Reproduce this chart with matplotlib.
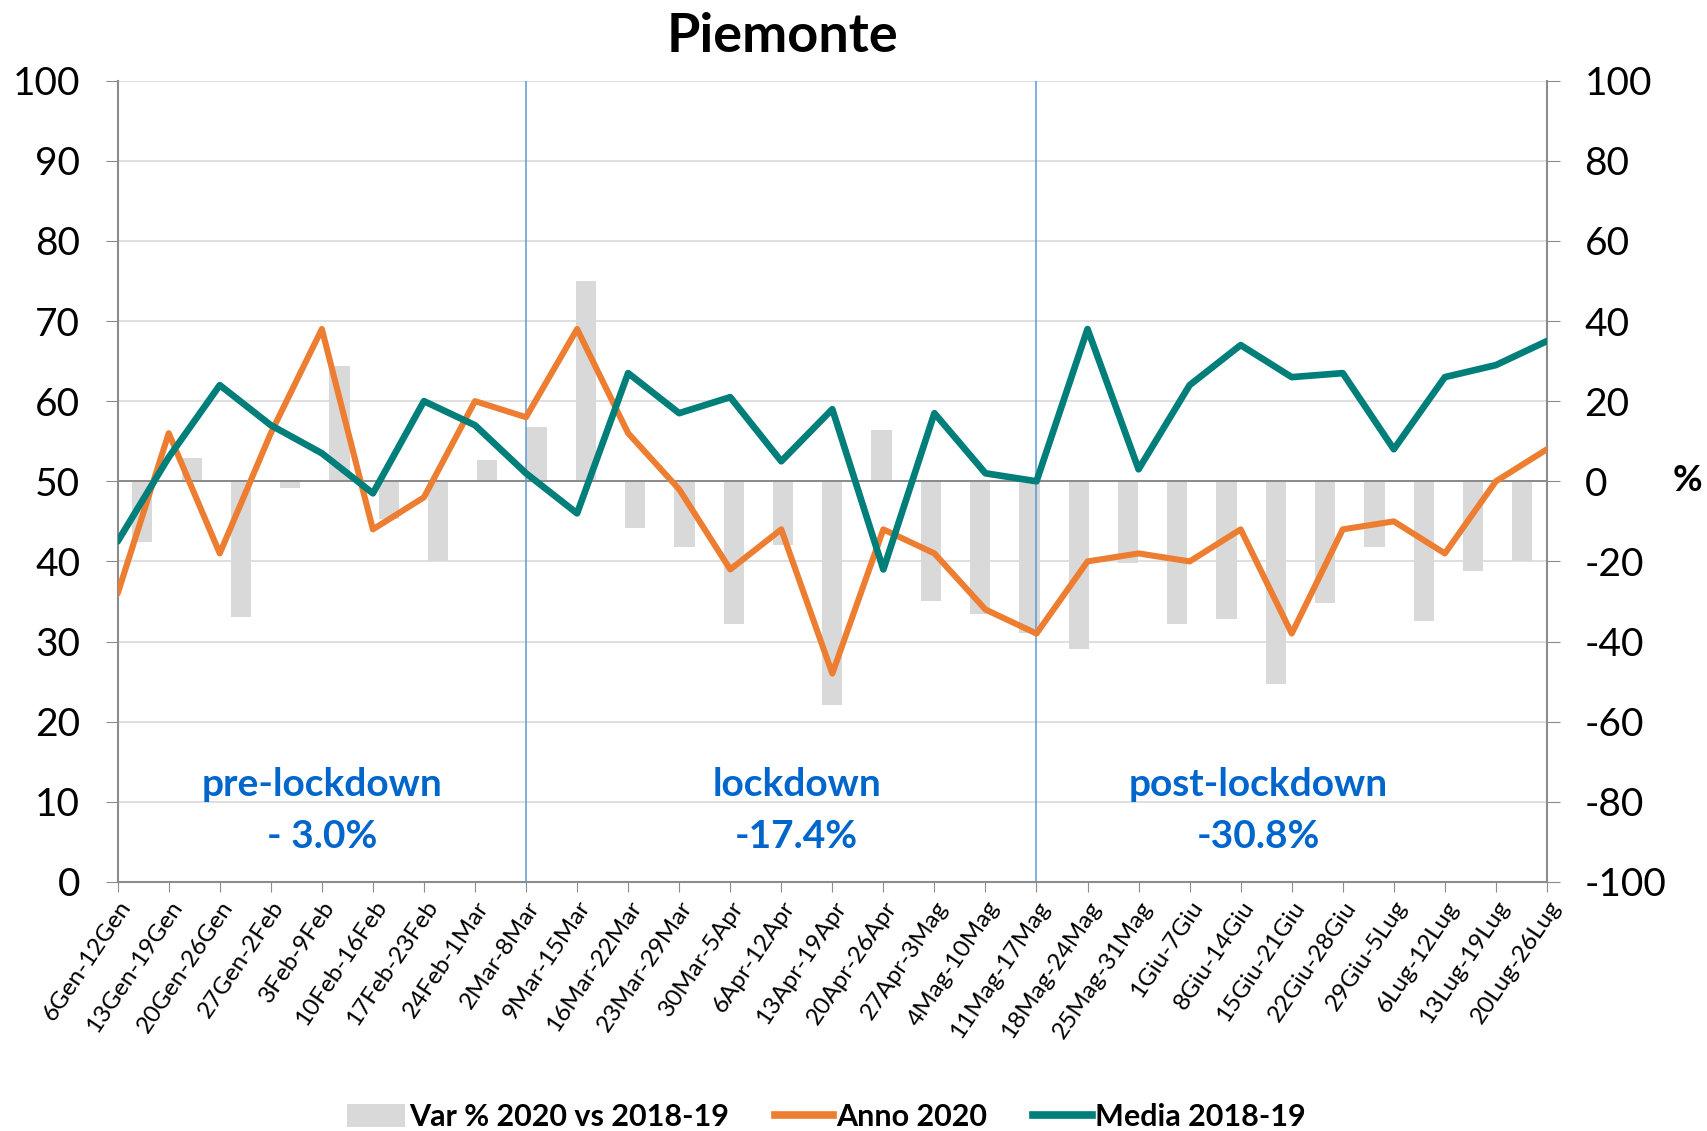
import matplotlib
matplotlib.use("Agg")
import matplotlib.pyplot as plt
from matplotlib.patches import Patch
from matplotlib.lines import Line2D

plt.rcParams['font.family'] = ['Lato', 'DejaVu Sans']
plt.rcParams['axes.unicode_minus'] = False

# weekly periods (2020)
weeks = ['6Gen-12Gen', '13Gen-19Gen', '20Gen-26Gen', '27Gen-2Feb', '3Feb-9Feb',
         '10Feb-16Feb', '17Feb-23Feb', '24Feb-1Mar', '2Mar-8Mar', '9Mar-15Mar',
         '16Mar-22Mar', '23Mar-29Mar', '30Mar-5Apr', '6Apr-12Apr', '13Apr-19Apr',
         '20Apr-26Apr', '27Apr-3Mag', '4Mag-10Mag', '11Mag-17Mag', '18Mag-24Mag',
         '25Mag-31Mag', '1Giu-7Giu', '8Giu-14Giu', '15Giu-21Giu', '22Giu-28Giu',
         '29Giu-5Lug', '6Lug-12Lug', '13Lug-19Lug', '20Lug-26Lug']

anno_2020 = [36, 56, 41, 56, 69, 44, 48, 60, 58, 69, 56, 49, 39, 44, 26,
             44, 41, 34, 31, 40, 41, 40, 44, 31, 44, 45, 41, 50, 54]
media_1819 = [42.5, 53, 62, 57, 53.5, 48.5, 60, 57, 51, 46, 63.5, 58.5, 60.5, 52.5, 59,
              39, 58.5, 51, 50, 69, 51.5, 62, 67, 63, 63.5, 54, 63, 64.5, 67.5]
var_pct = [-15.2, 5.7, -33.9, -1.7, 28.9, -9.3, -20.0, 5.2, 13.6, 50.0, -11.7, -16.3,
           -35.5, -16.0, -55.9, 12.8, -29.9, -33.2, -37.9, -41.9, -20.3, -35.5, -34.3,
           -50.7, -30.5, -16.5, -34.8, -22.4, -20.0]

# period separators and labels
split_idx = [8, 18]
phases = [('pre-lockdown', '- 3.0%'), ('lockdown', '-17.4%'), ('post-lockdown', '-30.8%')]

ORANGE = '#ED7D31'
TEAL = '#007F7A'
BAR = '#D9D9D9'
BLUE_TXT = '#0066CC'
AXIS_GREY = '#8C8C8C'

fig = plt.figure(figsize=(17.08, 11.31), dpi=100)
ax_bar = fig.add_axes([0.0689, 0.2202, 0.8368, 0.7085])
ax = ax_bar.twinx()

n = len(weeks)
x_pts = list(range(n))
# bars sit in the middle of 29 equal bands spanning the same width
band = (n - 1) / n
x_bar = [(i + 0.5) * band for i in range(n)]

# --- bars (right axis) ---
ax_bar.bar(x_bar, var_pct, width=0.41 * band, color=BAR, zorder=2)
ax_bar.axhline(0, color='#8A8A8A', lw=1.4, zorder=3)
ax_bar.set_ylim(-100, 100)
ax_bar.set_yticks(range(-100, 101, 20))
ax_bar.yaxis.tick_right()
ax_bar.yaxis.grid(True, color='#D9D9D9', lw=1.2)
ax_bar.set_axisbelow(True)
ax_bar.set_xlim(0, n - 1)
ax_bar.set_xticks(x_pts)
ax_bar.set_xticklabels(weeks, rotation=56, ha='right', va='top',
                       rotation_mode='anchor', fontsize=17.5)
ax_bar.tick_params(axis='x', direction='out', length=7, color=AXIS_GREY, pad=4)
ax_bar.tick_params(axis='y', direction='out', length=9, color=AXIS_GREY,
                   labelsize=28, pad=18)
for s in ['left', 'top']:
    ax_bar.spines[s].set_visible(False)
for s in ['right', 'bottom']:
    ax_bar.spines[s].set_color(AXIS_GREY)
    ax_bar.spines[s].set_linewidth(1.5)

# --- lines (left axis) ---
ax.plot(x_pts, anno_2020, color=ORANGE, lw=4.4, solid_joinstyle='round',
        solid_capstyle='round', zorder=3)
ax.plot(x_pts, media_1819, color=TEAL, lw=4.8, solid_joinstyle='round',
        solid_capstyle='round', zorder=4)
for xi in split_idx:
    ax.axvline(xi, color='#5B9BD5', lw=1.1, zorder=2)

ax.set_ylim(0, 100)
ax.set_yticks(range(0, 101, 10))
ax.yaxis.tick_left()
ax.tick_params(axis='y', direction='out', length=9, color=AXIS_GREY,
               labelsize=28, pad=18)
for s in ['right', 'top', 'bottom']:
    ax.spines[s].set_visible(False)
ax.spines['left'].set_color(AXIS_GREY)
ax.spines['left'].set_linewidth(1.5)

# phase annotations
phase_x = [4.0, 13.3, 22.35]
for (name, pct), px in zip(phases, phase_x):
    ax.text(px, 12.2, name, ha='center', va='center', color=BLUE_TXT,
            fontsize=28, fontweight='bold')
    ax.text(px, 5.7, pct, ha='center', va='center', color=BLUE_TXT,
            fontsize=28, fontweight='bold')

fig.text(0.458, 0.968, 'Piemonte', ha='center', va='center',
         fontsize=39, fontweight='bold')
fig.text(0.988, 0.575, '%', ha='center', va='center', fontsize=26, fontweight='bold')

handles = [Patch(facecolor=BAR, edgecolor='none'),
           Line2D([0], [0], color=ORANGE, lw=5.5),
           Line2D([0], [0], color=TEAL, lw=5.5)]
labels = ['Var % 2020 vs 2018-19', 'Anno 2020', 'Media 2018-19']
fig.legend(handles, labels, loc='center', bbox_to_anchor=(0.484, 0.012), ncol=3,
           frameon=False, prop={'family': 'Lato', 'weight': 'bold', 'size': 22},
           handlelength=1.9, handleheight=0.8, handletextpad=0.12,
           columnspacing=1.5)

fig.savefig('out.png', dpi=100)
